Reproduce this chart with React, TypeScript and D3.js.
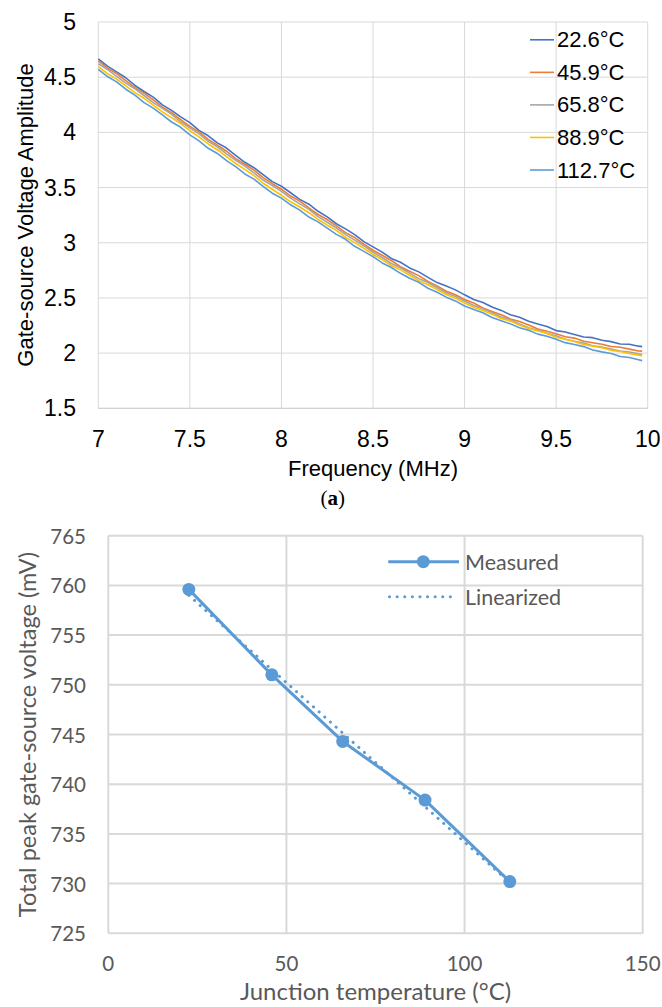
import React from 'react';
import * as d3 from 'd3';

// ---------- Chart (a): gate-source voltage amplitude vs frequency ----------
const freqMHz = [
  7.00, 7.05, 7.10, 7.15, 7.20, 7.25, 7.30, 7.35, 7.40, 7.45,
  7.50, 7.55, 7.60, 7.65, 7.70, 7.75, 7.80, 7.85, 7.90, 7.95,
  8.00, 8.05, 8.10, 8.15, 8.20, 8.25, 8.30, 8.35, 8.40, 8.45,
  8.50, 8.55, 8.60, 8.65, 8.70, 8.75, 8.80, 8.85, 8.90, 8.95,
  9.00, 9.05, 9.10, 9.15, 9.20, 9.25, 9.30, 9.35, 9.40, 9.45,
  9.50, 9.55, 9.60, 9.65, 9.70, 9.75, 9.80, 9.85, 9.90, 9.95, 9.97,
];

const amp22_6 = [
  4.666, 4.600, 4.548, 4.495, 4.425, 4.370, 4.319, 4.249, 4.199, 4.140,
  4.088, 4.018, 3.969, 3.905, 3.858, 3.792, 3.729, 3.680, 3.617, 3.554,
  3.512, 3.453, 3.393, 3.349, 3.285, 3.234, 3.172, 3.126, 3.074, 3.010,
  2.963, 2.915, 2.858, 2.823, 2.772, 2.736, 2.686, 2.639, 2.607, 2.573,
  2.528, 2.486, 2.459, 2.418, 2.387, 2.347, 2.325, 2.288, 2.263, 2.241,
  2.204, 2.191, 2.168, 2.146, 2.140, 2.116, 2.104, 2.083, 2.080, 2.063, 2.059,
];
const amp45_9 = [
  4.648, 4.582, 4.532, 4.468, 4.406, 4.356, 4.294, 4.228, 4.178, 4.116,
  4.054, 4.005, 3.937, 3.884, 3.829, 3.762, 3.711, 3.658, 3.590, 3.535,
  3.485, 3.423, 3.377, 3.315, 3.256, 3.210, 3.152, 3.092, 3.047, 2.987,
  2.932, 2.887, 2.839, 2.783, 2.741, 2.702, 2.649, 2.609, 2.560, 2.528,
  2.486, 2.454, 2.409, 2.378, 2.348, 2.310, 2.286, 2.254, 2.218, 2.198,
  2.175, 2.149, 2.136, 2.107, 2.094, 2.080, 2.060, 2.053, 2.036, 2.019, 2.018,
];
const amp65_8 = [
  4.622, 4.570, 4.508, 4.446, 4.395, 4.334, 4.270, 4.218, 4.163, 4.096,
  4.041, 3.987, 3.920, 3.869, 3.806, 3.746, 3.695, 3.633, 3.568, 3.517,
  3.465, 3.404, 3.352, 3.302, 3.237, 3.186, 3.134, 3.073, 3.024, 2.973,
  2.914, 2.866, 2.812, 2.773, 2.725, 2.675, 2.640, 2.592, 2.546, 2.513,
  2.472, 2.431, 2.402, 2.365, 2.327, 2.302, 2.263, 2.230, 2.208, 2.179,
  2.158, 2.126, 2.108, 2.091, 2.066, 2.056, 2.037, 2.019, 2.010, 1.993, 1.987,
];
const amp88_9 = [
  4.595, 4.532, 4.482, 4.421, 4.360, 4.309, 4.247, 4.185, 4.134, 4.080,
  4.015, 3.959, 3.895, 3.843, 3.780, 3.718, 3.665, 3.608, 3.539, 3.485,
  3.430, 3.371, 3.324, 3.272, 3.211, 3.159, 3.112, 3.049, 3.001, 2.950,
  2.894, 2.847, 2.794, 2.754, 2.705, 2.656, 2.620, 2.575, 2.531, 2.498,
  2.454, 2.415, 2.387, 2.351, 2.314, 2.290, 2.255, 2.224, 2.200, 2.177,
  2.144, 2.125, 2.105, 2.078, 2.063, 2.049, 2.025, 2.015, 1.997, 1.982, 1.977,
];
const amp112_7 = [
  4.570, 4.506, 4.458, 4.391, 4.337, 4.269, 4.220, 4.158, 4.094, 4.046,
  3.977, 3.923, 3.856, 3.809, 3.744, 3.690, 3.623, 3.576, 3.511, 3.449,
  3.404, 3.344, 3.295, 3.233, 3.189, 3.133, 3.076, 3.031, 2.968, 2.922,
  2.874, 2.817, 2.776, 2.723, 2.679, 2.641, 2.588, 2.552, 2.507, 2.473,
  2.427, 2.396, 2.365, 2.322, 2.294, 2.265, 2.229, 2.207, 2.172, 2.153,
  2.125, 2.095, 2.078, 2.059, 2.029, 2.011, 1.996, 1.970, 1.960, 1.940, 1.932,
];

const seriesLabels = ['22.6°C', '45.9°C', '65.8°C', '88.9°C', '112.7°C'];
const seriesValues = [amp22_6, amp45_9, amp65_8, amp88_9, amp112_7];
const seriesColors = ['#4472C4', '#ED7D31', '#A5A5A5', '#FFC000', '#5B9BD5'];

const ampTicks = [1.5, 2, 2.5, 3, 3.5, 4, 4.5, 5];
const freqTicks = [7, 7.5, 8, 8.5, 9, 9.5, 10];

// ---------- Chart (b): total peak gate-source voltage vs junction temperature ----------
const junctionTemp = [22.6, 45.9, 65.8, 88.9, 112.7];
const peakVoltage = [759.6, 751.0, 744.3, 738.4, 730.2];
const linearizedTemp = [22.6, 112.7];
const linearizedVoltage = [759.0, 730.1];
const tempTicks = [0, 50, 100, 150];
const voltTicks = [725, 730, 735, 740, 745, 750, 755, 760, 765];

const ARIAL = '"Liberation Sans", Arial, sans-serif';
const CALIBRI = 'Lato, "Noto Sans", sans-serif';

export default function App() {
  // Top chart scales
  const xA = d3.scaleLinear().domain([7, 10]).range([98.3, 647.7]);
  const yA = d3.scaleLinear().domain([1.5, 5]).range([408.3, 22]);
  const lineA = d3
    .line<number>()
    .x((_, i) => xA(freqMHz[i]))
    .y((d) => yA(d));

  // Bottom chart scales
  const xB = d3.scaleLinear().domain([0, 150]).range([108.3, 642.7]);
  const yB = d3.scaleLinear().domain([725, 765]).range([933.3, 535.7]);
  const lineB = d3
    .line<number>()
    .x((_, i) => xB(junctionTemp[i]))
    .y((d) => yB(d));
  const lineLin = d3
    .line<number>()
    .x((_, i) => xB(linearizedTemp[i]))
    .y((d) => yB(d));

  const blue = '#5B9BD5';
  const gridA = '#D9D9D9';
  const gridB = '#D9D9D9';
  const textB = '#595959';

  return (
    <svg
      width={662}
      height={1007}
      style={{ position: 'absolute', left: 0, top: 0, display: 'block', background: '#fff' }}
    >
      <rect x={0} y={0} width={662} height={1007} fill="#fff" />

      {/* ================= Chart (a) ================= */}
      <g>
        {ampTicks.map((t) => (
          <line key={'ga' + t} x1={xA(7)} x2={xA(10)} y1={yA(t)} y2={yA(t)} stroke={gridA} strokeWidth={1} />
        ))}
        {freqTicks.map((t) => (
          <line key={'gf' + t} x1={xA(t)} x2={xA(t)} y1={yA(1.5)} y2={yA(5)} stroke={gridA} strokeWidth={1} />
        ))}
        <line x1={xA(7)} x2={xA(10)} y1={yA(1.5)} y2={yA(1.5)} stroke="#CFCFCF" strokeWidth={1} />

        {seriesValues.map((vals, i) => (
          <path key={'s' + i} d={lineA(vals) || ''} fill="none" stroke={seriesColors[i]} strokeWidth={1.6} strokeLinejoin="round" />
        ))}

        {ampTicks.map((t) => (
          <text key={'ta' + t} x={76} y={yA(t)} textAnchor="end" dominantBaseline="central" fontFamily={ARIAL} fontSize={23} fill="#000">
            {String(t)}
          </text>
        ))}
        {freqTicks.map((t) => (
          <text key={'tf' + t} x={xA(t)} y={447} textAnchor="middle" fontFamily={ARIAL} fontSize={23} fill="#000">
            {String(t)}
          </text>
        ))}
        <text x={373} y={476} textAnchor="middle" fontFamily={ARIAL} fontSize={22} fill="#000">
          Frequency (MHz)
        </text>
        <text transform="translate(33,215) rotate(-90)" textAnchor="middle" fontFamily={ARIAL} fontSize={22} fill="#000">
          Gate-source Voltage Amplitude
        </text>

        {seriesLabels.map((lab, i) => {
          const cy = 39.8 + i * 32.55;
          return (
            <g key={'l' + i}>
              <line x1={530} x2={554} y1={cy} y2={cy} stroke={seriesColors[i]} strokeWidth={1.6} />
              <text x={557} y={cy} dominantBaseline="central" fontFamily={ARIAL} fontSize={22} fill="#000">
                {lab}
              </text>
            </g>
          );
        })}
      </g>

      <text x={332.7} y={505} textAnchor="middle" fontFamily='"Liberation Serif", "DejaVu Serif", serif' fontSize={21} fill="#000">
        (<tspan fontWeight="bold">a</tspan>)
      </text>

      {/* ================= Chart (b) ================= */}
      <g>
        {voltTicks.map((t) => (
          <line key={'gv' + t} x1={xB(0)} x2={xB(150)} y1={yB(t)} y2={yB(t)} stroke={gridB} strokeWidth={2} />
        ))}
        {tempTicks.map((t) => (
          <line key={'gt' + t} x1={xB(t)} x2={xB(t)} y1={yB(725)} y2={yB(765)} stroke={gridB} strokeWidth={2} />
        ))}

        <path d={lineB(peakVoltage) || ''} fill="none" stroke={blue} strokeWidth={3} strokeLinejoin="round" />
        {peakVoltage.map((v, i) => (
          <circle key={'m' + i} cx={xB(junctionTemp[i])} cy={yB(v)} r={6.5} fill={blue} />
        ))}
        <path d={lineLin(linearizedVoltage) || ''} fill="none" stroke={blue} strokeWidth={3} strokeDasharray="0.1 7.5" strokeLinecap="round" />

        {voltTicks.map((t) => (
          <text key={'tv' + t} x={86} y={yB(t)} textAnchor="end" dominantBaseline="central" fontFamily={CALIBRI} fontSize={20.5} fill={textB}>
            {String(t)}
          </text>
        ))}
        {tempTicks.map((t) => (
          <text key={'tt' + t} x={xB(t)} y={971} textAnchor="middle" fontFamily={CALIBRI} fontSize={20.5} fill={textB}>
            {String(t)}
          </text>
        ))}
        <text x={375.5} y={1000} textAnchor="middle" fontFamily={CALIBRI} fontSize={24} fill={textB}>
          Junction temperature (°C)
        </text>
        <text transform="translate(36,734.5) rotate(-90)" textAnchor="middle" fontFamily={CALIBRI} fontSize={23.5} fill={textB}>
          Total peak gate-source voltage (mV)
        </text>

        {/* legend */}
        <line x1={388.3} x2={459} y1={561.7} y2={561.7} stroke={blue} strokeWidth={3} />
        <circle cx={423.3} cy={561.7} r={6.5} fill={blue} />
        <text x={465} y={561.7} dominantBaseline="central" fontFamily={CALIBRI} fontSize={21.5} fill={textB}>
          Measured
        </text>
        <line x1={389.5} x2={452} y1={596.7} y2={596.7} stroke={blue} strokeWidth={3} strokeDasharray="0.1 7.5" strokeLinecap="round" />
        <text x={465} y={596.7} dominantBaseline="central" fontFamily={CALIBRI} fontSize={21.5} fill={textB}>
          Linearized
        </text>
      </g>
    </svg>
  );
}
